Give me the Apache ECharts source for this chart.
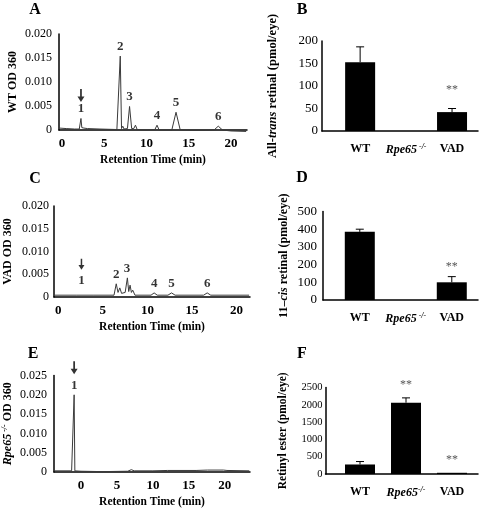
<!DOCTYPE html>
<html><head><meta charset="utf-8">
<script src="https://cdn.jsdelivr.net/npm/echarts@6/dist/echarts.min.js"></script>
<style>html,body{margin:0;padding:0;background:#fff}#c{width:480px;height:510px}</style>
</head><body><div id="c"></div>
<script>
// ---------------- DATA ----------------
// Panel A: WT chromatogram [retention time (min), OD 360]
const wtTrace = [[-0.3,0.0004],[0.5,0.0003],[1.5,0.0002],[2.05,0.0002],[2.15,0.0006],[2.25,0.0024],[2.35,0.0005],[2.6,0.0004],[2.8,0.0007],[3.0,0.0003],[4.5,0.0002],[6.5,0.0001],[6.7,0.0003],[6.9,0.0154],[7.05,0.0003],[7.2,0.0008],[7.35,0.0002],[7.75,0.0003],[8.0,0.0049],[8.25,0.0003],[8.5,0.0003],[8.7,0.0010],[8.9,0.0001],[10.0,0.0000],[11.0,0.0001],[11.25,0.0010],[11.5,0.0000],[13.0,0.0000],[13.5,0.0037],[14.0,0.0000],[15.0,-0.0001],[17.0,-0.0001],[18.0,0.0000],[18.5,0.0008],[19.0,0.0000],[20.0,-0.0002],[21.8,-0.0003]];
const wtPeakTimes = [2.25, 6.9, 8.0, 11.25, 13.5, 18.5];
const wtPeakHeights = [0.0024, 0.0154, 0.0049, 0.0010, 0.0037, 0.0008];

// Panel C: VAD chromatogram
const vadTrace = [[-0.4,0.0004],[2.0,0.0004],[4.0,0.0004],[6.25,0.0004],[6.5,0.0029],[6.7,0.0010],[6.9,0.0020],[7.1,0.0008],[7.3,0.0006],[7.5,0.0010],[7.75,0.0042],[7.9,0.0012],[8.05,0.0026],[8.2,0.0010],[8.35,0.0015],[8.6,0.0004],[10.4,0.0004],[10.75,0.0009],[11.1,0.0004],[12.3,0.0004],[12.7,0.0009],[13.1,0.0004],[16.3,0.0004],[16.7,0.0009],[17.1,0.0004],[21.4,0.0004]];
const vadPeakTimes = [2.6, 6.5, 7.7, 10.75, 12.7, 16.7];
const vadPeakHeights = [0.0004, 0.0029, 0.0042, 0.0009, 0.0009, 0.0009];

// Panel E: Rpe65-/- chromatogram
const rpeTrace = [[-3.7,0.0003],[-1.3,0.0003],[-1.05,0.0003],[-0.95,0.0200],[-0.85,0.0003],[0,0.0002],[3,0.0001],[6.5,0.0002],[7.0,0.0006],[7.4,0.0003],[10,0.0003],[12,0.0004],[16,0.0004],[17.6,0.0005],[19.8,0.0005],[20.3,0.0004],[23.4,0.0003]];
const rpePeakTimes = [-0.95];
const rpePeakHeights = [0.0200];

const peakNames = ['1','2','3','4','5','6'];
const timeTicks = [0, 5, 10, 15, 20];

// Bar panels
const groups = ['WT', 'Rpe65', 'VAD'];
const allTransMean = [153, 0, 42];
const allTransErr  = [34, 0, 8];
const allTransSig  = ['', '', '**'];
const elevenCisMean = [385, 0, 100];
const elevenCisErr  = [15, 0, 32];
const elevenCisSig  = ['', '', '**'];
const esterMean = [275, 2060, 35];
const esterErr  = [85, 140, 0];
const esterSig  = ['', '**', '**'];

// ---------------- CHART ----------------
const SERIF = "'Liberation Serif','Times New Roman',serif";
const chart = echarts.init(document.getElementById('c'), null, {renderer:'canvas'});

const axisLineStyle = {show:true, onZero:false, lineStyle:{color:'#000', width:1.5}};

const grids = [
  {left:59, top:34, width:188, height:96},       // A
  {left:54, top:206, width:196, height:91},      // C
  {left:54, top:375.5, width:196, height:96.5},  // E
  {left:322, top:41, width:156, height:90},      // B
  {left:323, top:211.5, width:155, height:88.5}, // D
  {left:325.5, top:387.5, width:152.5, height:86.5} // F
];

function chromX(gi, min, max) {
  return {
    type:'value', gridIndex:gi, min:min, max:max,
    axisLine:axisLineStyle, axisTick:{show:false}, splitLine:{show:false},
    axisLabel:{customValues:timeTicks, fontFamily:SERIF, fontWeight:'bold', fontSize:13, color:'#000', margin:7},
    name:'Retention Time (min)', nameLocation:'middle', nameGap:24,
    nameTextStyle:{fontFamily:SERIF, fontWeight:'bold', fontSize:11.5, color:'#000'}
  };
}
function chromY(gi, max, name, rich, margin) {
  return {
    type:'value', gridIndex:gi, min:0, max:max, interval:0.005,
    axisLine:axisLineStyle, axisTick:{show:false}, splitLine:{show:false},
    axisLabel:{fontFamily:SERIF, fontSize:12, color:'#000', margin:margin,
      formatter:v => v === 0 ? '0' : v.toFixed(3)},
    name:name, nameLocation:'middle', nameRotate:90, nameGap:40,
    nameTextStyle:{fontFamily:SERIF, fontWeight:'bold', fontSize:12, color:'#000', rich:rich}
  };
}
const catRich = {
  c:{fontFamily:SERIF, fontWeight:'bold', fontSize:12, color:'#000'},
  i:{fontFamily:SERIF, fontWeight:'bold', fontStyle:'italic', fontSize:12, color:'#000'},
  s:{fontFamily:SERIF, fontWeight:'bold', fontStyle:'italic', fontSize:8, color:'#000', verticalAlign:'top', padding:[0,0,5,0]}
};
function barX(gi, min, max, spaced) {
  return {
    type:'value', gridIndex:gi, min:min, max:max,
    axisLine:axisLineStyle, axisTick:{show:false}, splitLine:{show:false},
    axisLabel:{customValues:[1,2,3], margin:12, rich:catRich,
      formatter:v => {
        const g = groups[Math.round(v)-1];
        if (g === 'Rpe65') return '{i|Rpe65}{s|' + (spaced ? ' ' : '') + '-/-}';
        return '{c|' + g + '}';
      }}
  };
}
function barY(gi, max, interval, name, gap, nameFs, tickFs, margin) {
  const rich = {
    n:{fontFamily:SERIF, fontWeight:'bold', fontSize:nameFs, color:'#000'},
    ni:{fontFamily:SERIF, fontWeight:'bold', fontStyle:'italic', fontSize:nameFs, color:'#000'}
  };
  return {
    type:'value', gridIndex:gi, min:0, max:max, interval:interval,
    axisLine:axisLineStyle, axisTick:{show:false}, splitLine:{show:false},
    axisLabel:{fontFamily:SERIF, fontSize:tickFs, color:'#000', margin:margin, formatter:v => String(v)},
    name:name, nameLocation:'middle', nameRotate:90, nameGap:gap,
    nameTextStyle:{rich:rich}
  };
}

function traceSeries(idx, data) {
  return {type:'line', xAxisIndex:idx, yAxisIndex:idx, data:data, showSymbol:false, symbol:'none',
    clip:false, silent:true, lineStyle:{color:'#3a3a3a', width:1}, z:3};
}
function peakLabelSeries(idx, times, heights, specialDist) {
  return {type:'scatter', xAxisIndex:idx, yAxisIndex:idx, symbol:'circle', symbolSize:0, silent:true, clip:false,
    data: times.map((t,i) => ({value:[t, heights[i]], name:peakNames[i],
      label: (specialDist && specialDist[i]) ? {distance:specialDist[i]} : undefined})),
    label:{show:true, position:'top', distance:3, formatter:p => p.name,
      fontFamily:SERIF, fontWeight:'bold', fontSize:13, color:'#000'}};
}
const ARROW = 'path://M3,0 L5,0 L5,8 L8,8 L4,14 L0,8 L3,8 Z';
function arrowSeries(idx, t, h, off, size) {
  return {type:'scatter', xAxisIndex:idx, yAxisIndex:idx, silent:true, clip:false,
    symbol:ARROW, symbolSize:size || [7,13], symbolOffset:[0, -off], itemStyle:{color:'#000'},
    data:[[t, h]]};
}
function barSeries(idx, mean) {
  return {type:'bar', xAxisIndex:idx, yAxisIndex:idx, barWidth:30, silent:true,
    itemStyle:{color:'#000'}, data:mean.map((m,i) => [i+1, m])};
}
function errSeries(idx, mean, err, sig, gap) {
  return {type:'custom', xAxisIndex:idx, yAxisIndex:idx, clip:false, silent:true, z:5,
    data: mean.map((m,i) => [i+1, m, m + err[i]]),
    renderItem: function(params, api) {
      const x = api.value(0), m = api.value(1), t = api.value(2);
      const s = sig[params.dataIndex];
      const p0 = api.coord([x, m]), p1 = api.coord([x, t]);
      const ch = [];
      if (t > m) {
        ch.push({type:'line', shape:{x1:p0[0], y1:p0[1], x2:p1[0], y2:p1[1]}, style:{stroke:'#000', lineWidth:1}});
        ch.push({type:'line', shape:{x1:p1[0]-4, y1:p1[1], x2:p1[0]+4, y2:p1[1]}, style:{stroke:'#000', lineWidth:1}});
      }
      if (s) ch.push({type:'text', style:{text:s, x:p1[0], y:p1[1]-gap, align:'center', verticalAlign:'middle',
        font:'12px ' + SERIF, fill:'#555'}});
      return {type:'group', children:ch};
    }};
}

const letters = [['A',35,10],['B',302,10],['C',35,179],['D',302,178],['E',33,354],['F',302,354]];

const option = {
  animation:false,
  backgroundColor:'#fff',
  grid:grids,
  xAxis:[
    chromX(0, -0.35, 21.9),
    chromX(1, -0.48, 21.5),
    chromX(2, -3.75, 23.5),
    barX(3, 0.17, 3.565, true),
    barX(4, 0.2, 3.57, true),
    barX(5, 0.25, 3.565, false)
  ],
  yAxis:[
    chromY(0, 0.020, 'WT OD 360', null, 7),
    chromY(1, 0.020, 'VAD OD 360', null, 5),
    chromY(2, 0.025, '{i|Rpe65}{s| -/-}{n| OD 360}', {
      n:{fontFamily:SERIF, fontWeight:'bold', fontSize:12, color:'#000'},
      i:{fontFamily:SERIF, fontWeight:'bold', fontStyle:'italic', fontSize:12, color:'#000'},
      s:{fontFamily:SERIF, fontWeight:'bold', fontStyle:'italic', fontSize:8, color:'#000', verticalAlign:'top', padding:[0,0,5,0]}
    }, 7),
    barY(3, 200, 50, '{n|All-}{ni|trans}{n| retinal (pmol/eye)}', 43, 12.5, 13, 4),
    barY(4, 500, 100, '{n|11–}{ni|cis}{n| retinal (pmol/eye)}', 33, 12, 13, 6),
    barY(5, 2500, 500, '{n|Retinyl ester (pmol/eye)}', 36, 11.5, 10.5, 3)
  ],
  graphic: letters.map(l => ({type:'text', x:l[1], y:l[2], silent:true,
    style:{text:l[0], font:'bold 16px ' + SERIF, fill:'#000', align:'center', verticalAlign:'middle'}})),
  series:[
    traceSeries(0, wtTrace),
    peakLabelSeries(0, wtPeakTimes, wtPeakHeights),
    arrowSeries(0, wtPeakTimes[0], wtPeakHeights[0], 23),
    traceSeries(1, vadTrace),
    peakLabelSeries(1, vadPeakTimes, vadPeakHeights, {0:8}),
    arrowSeries(1, vadPeakTimes[0], vadPeakHeights[0], 31, [6,11]),
    traceSeries(2, rpeTrace),
    peakLabelSeries(2, rpePeakTimes, rpePeakHeights),
    arrowSeries(2, rpePeakTimes[0], rpePeakHeights[0], 27),
    barSeries(3, allTransMean), errSeries(3, allTransMean, allTransErr, allTransSig, 19),
    barSeries(4, elevenCisMean), errSeries(4, elevenCisMean, elevenCisErr, elevenCisSig, 10),
    barSeries(5, esterMean), errSeries(5, esterMean, esterErr, esterSig, 13)
  ]
};
chart.setOption(option);
</script>
</body></html>
